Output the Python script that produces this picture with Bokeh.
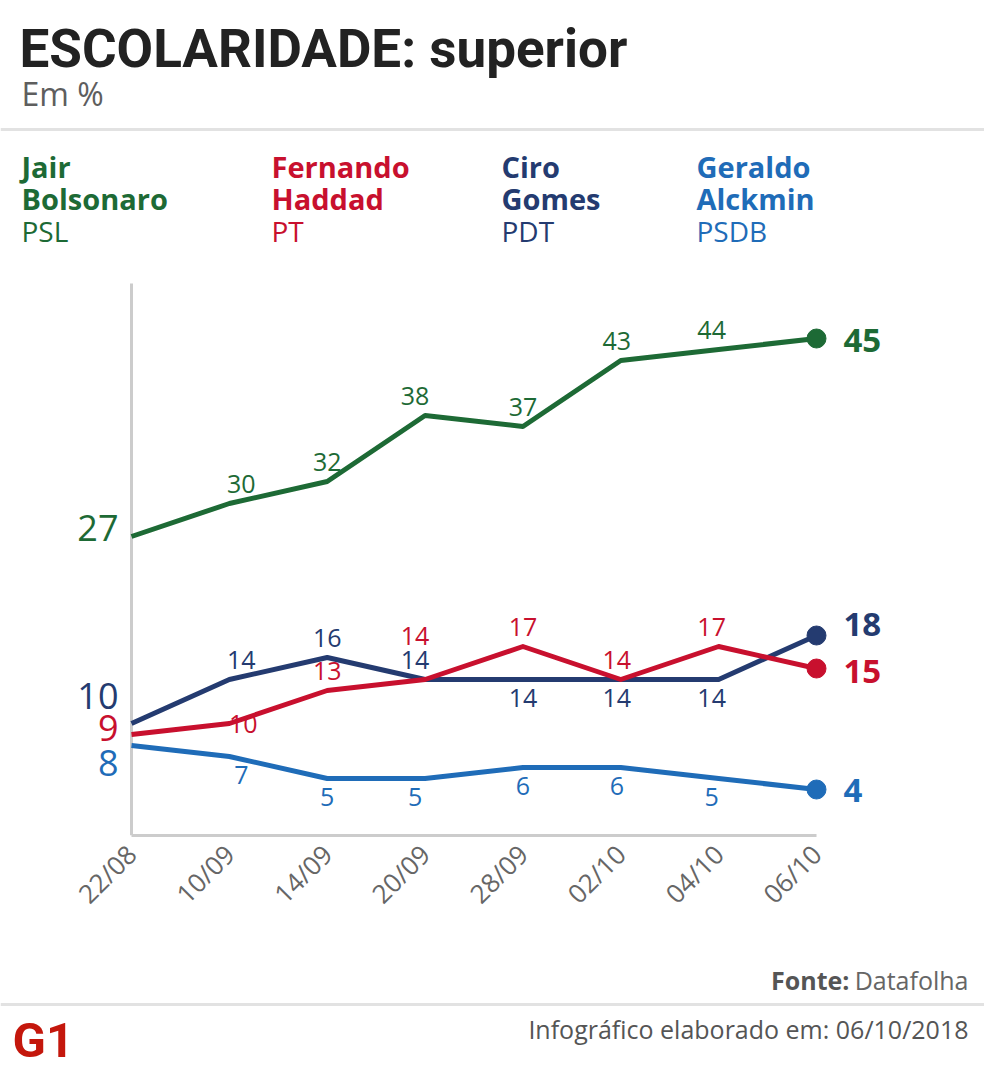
import math
from bokeh.plotting import figure
from bokeh.layouts import column
from bokeh.models import Range1d, ColumnDataSource, LabelSet, FixedTicker
from bokeh.core.properties import value
from bokeh.embed import file_html
from bokeh.resources import INLINE

# ---------------- data ----------------
dates = ["22/08", "10/09", "14/09", "20/09", "28/09", "02/10", "04/10", "06/10"]
first_names = ["Jair", "Fernando", "Ciro", "Geraldo"]
last_names = ["Bolsonaro", "Haddad", "Gomes", "Alckmin"]
parties = ["PSL", "PT", "PDT", "PSDB"]
bolsonaro = [27, 30, 32, 38, 37, 43, 44, 45]
haddad = [9, 10, 13, 14, 17, 14, 17, 15]
ciro = [10, 14, 16, 14, 14, 14, 14, 18]
alckmin = [8, 7, 5, 5, 6, 6, 5, 4]

# ---------------- style ----------------
colors = ["#1d6a35", "#c8102e", "#243b70", "#1f6cb8"]
series = [bolsonaro, haddad, ciro, alckmin]
placements = [
    ["up", "up", "up", "up", "up", "up"],
    ["on", "up", "high", "up", "up", "up"],
    ["up", "up", "up", "down", "down", "down"],
    ["down", "down", "down", "down", "down", "down"],
]
place_dy = {"up": 20, "high": 44, "down": -18, "on": 0}
date_dx = [0, 12, 0, -10, 0, -4, -7, 0]
start_shift = [9, 7, 28, -17]
end_shift = [-2, -3, 11, -1]

W = 984
HEAD_H, MAIN_H, FOOT_H = 258, 702, 121
FONT = "Open Sans"


def blank(height):
    f = figure(width=W, height=height, x_range=Range1d(0, W), y_range=Range1d(height, 0),
               x_axis_location=None, y_axis_location=None, toolbar_location=None,
               output_backend="svg", min_border=0)
    f.grid.visible = False
    f.outline_line_color = None
    return f


# ---------------- header ----------------
head = blank(HEAD_H)
head.text(x=[19], y=[48], text=["ESCOLARIDADE: superior"], text_font=value("Roboto"),
          text_font_style="bold", text_font_size="53px", text_color="#222222",
          text_baseline="middle")
head.text(x=[21], y=[93], text=["Em %"], text_font=value(FONT), text_font_size="32px",
          text_color="#5e5e5e", text_baseline="middle")
head.line(x=[0, W], y=[129, 129], line_color="#e2e2e2", line_width=3)
col_x = [21, 271, 501, 696]
head.text(x=col_x, y=[166] * 4, text=first_names, text_font=value(FONT),
          text_font_style="bold", text_font_size="29px", text_color=colors,
          text_baseline="middle")
head.text(x=col_x, y=[198] * 4, text=last_names, text_font=value(FONT),
          text_font_style="bold", text_font_size="29px", text_color=colors,
          text_baseline="middle")
head.text(x=col_x, y=[230] * 4, text=parties, text_font=value(FONT),
          text_font_size="28px", text_color=colors, text_baseline="middle")

# ---------------- main chart ----------------
x0_px, x7_px = 131, 816
px_per = (x7_px - x0_px) / (len(dates) - 1)
x_start = -x0_px / px_per
x_end = (W - x0_px) / px_per
top_canvas = HEAD_H
bottom_canvas = 835
ref_v, ref_px, py_per = 27, 536, 11.0
y_top = ref_v + (ref_px - top_canvas) / py_per
y_bot = ref_v - (bottom_canvas - ref_px) / py_per
axis_top = ref_v + (ref_px - 283) / py_per

p = figure(width=W, height=MAIN_H, x_range=Range1d(x_start, x_end),
           y_range=Range1d(y_bot, y_top), y_axis_location=None,
           toolbar_location=None, output_backend="svg",
           min_border_left=0, min_border_right=0, min_border_top=0,
           min_border_bottom=HEAD_H + MAIN_H - bottom_canvas)
p.grid.visible = False
p.outline_line_color = None

idx = list(range(len(dates)))
p.xaxis.ticker = FixedTicker(ticks=idx)
p.xaxis.major_label_overrides = {i: d for i, d in zip(idx, dates)}
p.xaxis.bounds = (0, len(dates) - 1)
p.xaxis.axis_line_color = "#cccccc"
p.xaxis.axis_line_width = 3
p.xaxis.major_tick_line_color = None
p.xaxis.minor_tick_line_color = None
p.xaxis.major_label_orientation = math.pi / 4
p.xaxis.major_label_text_font = FONT
p.xaxis.major_label_text_font_size = "26px"
p.xaxis.major_label_text_color = "#666666"
p.xaxis.major_label_standoff = 8

# vertical axis line at the first survey date
p.segment(x0=[idx[0]], x1=[idx[0]], y0=[y_bot], y1=[axis_top],
          line_color="#cccccc", line_width=3)

for k in [3, 2, 1, 0]:
    vals, col = series[k], colors[k]
    p.line(x=idx, y=vals, line_color=col, line_width=5, line_join="round")
    p.scatter(x=[idx[-1]], y=[vals[-1]], size=19, fill_color=col, line_color=col)

for k in range(4):
    vals, col = series[k], colors[k]
    mid = ColumnDataSource(dict(
        x=idx[1:-1], y=vals[1:-1], text=[str(v) for v in vals[1:-1]],
        dx=[date_dx[i] + (2 if placements[k][i - 1] == "on" else 0) for i in idx[1:-1]],
        dy=[place_dy[pl] for pl in placements[k]]))
    p.add_layout(LabelSet(source=mid, x="x", y="y", text="text", x_offset="dx", y_offset="dy",
                          text_align="center", text_baseline="middle", text_color=col,
                          text_font=value(FONT), text_font_size="25px"))
    st = ColumnDataSource(dict(x=[idx[0]], y=[vals[0]], text=[str(vals[0])]))
    p.add_layout(LabelSet(source=st, x="x", y="y", text="text", x_offset=-13,
                          y_offset=start_shift[k], text_align="right", text_baseline="middle",
                          text_color=col, text_font=value(FONT), text_font_size="36px"))
    en = ColumnDataSource(dict(x=[idx[-1]], y=[vals[-1]], text=[str(vals[-1])]))
    p.add_layout(LabelSet(source=en, x="x", y="y", text="text", x_offset=27,
                          y_offset=end_shift[k], text_align="left", text_baseline="middle",
                          text_color=col, text_font=value(FONT), text_font_style="bold",
                          text_font_size="33px"))

# ---------------- footer ----------------
foot = blank(FOOT_H)
foot.text(x=[968], y=[19], text=["Datafolha"], text_font=value(FONT), text_font_size="25px",
          text_color="#666666", text_align="right", text_baseline="middle")
foot.text(x=[849], y=[19], text=["Fonte:"], text_font=value(FONT), text_font_style="bold",
          text_font_size="25px", text_color="#555555", text_align="right",
          text_baseline="middle")
foot.line(x=[0, W], y=[44, 44], line_color="#e2e2e2", line_width=3)
foot.text(x=[968], y=[68], text=["Infográfico elaborado em: 06/10/2018"], text_font=value(FONT),
          text_font_size="25px", text_color="#555555", text_align="right",
          text_baseline="middle")
foot.text(x=[12], y=[80], text=["G1"], text_font=value("Roboto"), text_font_style="bold",
          text_font_size="49px", text_color="#c4170c", text_baseline="middle")

layout = column(head, p, foot, spacing=0)
open("out.html", "w").write(file_html(layout, INLINE))
